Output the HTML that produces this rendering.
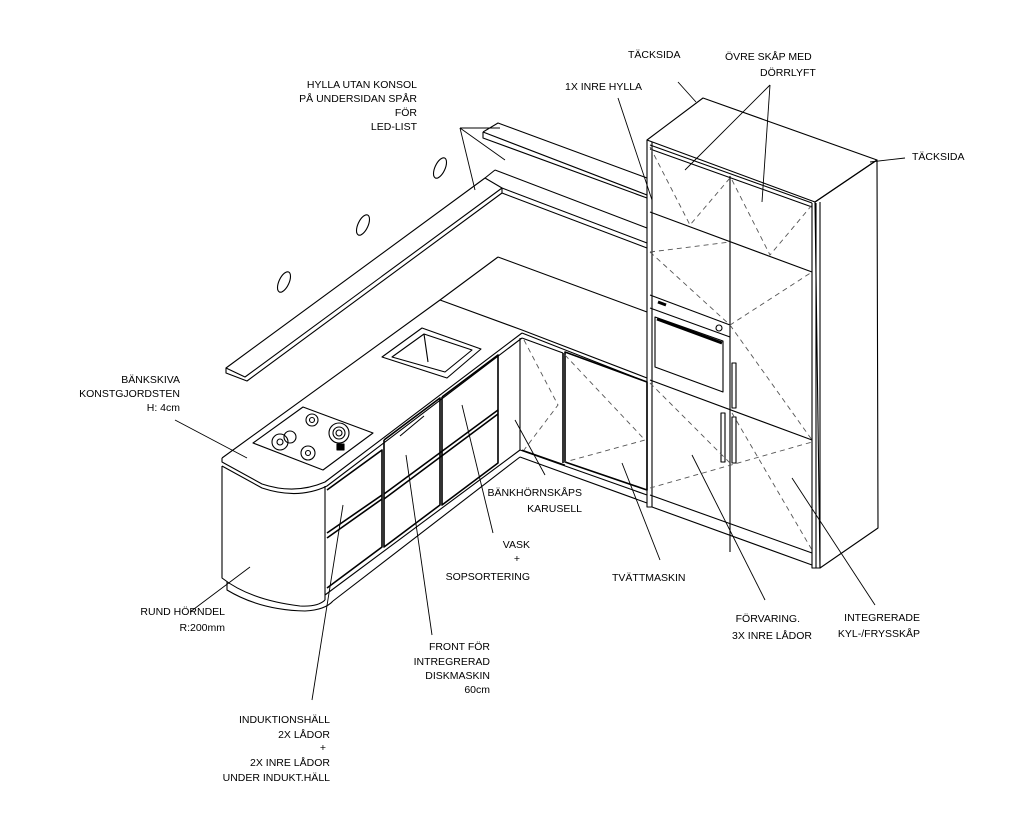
<!DOCTYPE html>
<html><head><meta charset="utf-8"><style>
body{margin:0;background:#fff;}
svg{display:block}
text{font-family:"Liberation Sans",sans-serif;font-size:10.5px;fill:#000;}
</style></head><body>
<svg width="1024" height="819" viewBox="0 0 1024 819" xmlns="http://www.w3.org/2000/svg">
<g fill="none" stroke="#000" stroke-width="1.1" stroke-linejoin="round">
<!-- upper back shelf -->
<polyline points="483,132 498,123 647,178"/>
<polyline points="483,132 483,138 647,198"/>
<line x1="483" y1="132" x2="647" y2="195"/>
<!-- left shelf -->
<polygon points="226,368 485,178 502,188 245,377"/>
<polyline points="226,368 226,373 247,381 502,193 502,188"/>
<line x1="485" y1="178" x2="495" y2="170"/>
<line x1="495" y1="170" x2="647" y2="228"/>
<line x1="502" y1="188" x2="647" y2="243"/>
<line x1="502" y1="193" x2="647" y2="248"/>
<!-- ovals -->
<ellipse cx="284" cy="282" rx="5" ry="11" transform="rotate(25 284 282)"/>
<ellipse cx="363" cy="225" rx="5" ry="11" transform="rotate(25 363 225)"/>
<ellipse cx="440" cy="168" rx="5" ry="11" transform="rotate(25 440 168)"/>
<!-- countertop -->
<path d="M498,257 L647,312"/>
<path d="M498,257 L440,300 L222,458"/>
<path d="M440,300 L522,330 L647,378"/>
<path d="M522,333 L647,382"/>
<path d="M522,333 L325,482 Q295,495 262,484 L222,462 L222,458"/>
<path d="M222,466 L262,488 Q298,500 327,486 L522,338"/>
<!-- round end -->
<path d="M222,466 L222,578 Q250,600 300,606 Q318,607 325,600"/>
<path d="M227,582 L227,590 Q260,610 305,611 Q325,610 333,601"/>
<path d="M325,486 L325,600"/>
<!-- left arm bottom -->
<line x1="325" y1="595" x2="520" y2="450"/>
<line x1="333" y1="601" x2="520" y2="457"/>
<line x1="520" y1="338" x2="520" y2="450"/>
<!-- left arm fronts -->
<g stroke-width="1.6">
<polyline points="327,490 382,450 382,547 327,588"/>
<polyline points="384,440 440,398 440,505 384,547 384,440"/>
<polyline points="442,397 498,355 498,463 442,505 442,397"/>
<line x1="327" y1="533" x2="382" y2="495"/>
<line x1="327" y1="538" x2="382" y2="499"/>
<line x1="384" y1="494" x2="498" y2="410"/>
<line x1="384" y1="499" x2="498" y2="414"/>
</g>
<line x1="400" y1="436" x2="424" y2="416"/>
<!-- right run -->
<line x1="522" y1="338" x2="563" y2="353"/>
<line x1="522" y1="450" x2="565" y2="465"/>
<polyline points="520,450 647,495"/>
<line x1="520" y1="457" x2="647" y2="503"/>
<polygon points="565,352 647,382 647,490 565,462" stroke-width="1.6"/>
<line x1="563" y1="353" x2="563" y2="463" stroke-width="1.6"/>
<!-- sink -->
<polygon points="382,357 422,328 481,349 447,378"/>
<polygon points="392,357 424,334 472,350 445,372"/>
<line x1="424" y1="334" x2="428" y2="362"/>
<!-- hob -->
<polygon points="253,443 303,407 373,433 323,470"/>
<circle cx="312" cy="420" r="6"/><circle cx="312" cy="420" r="2.5"/>
<circle cx="339" cy="433" r="10"/><circle cx="339" cy="433" r="6"/><circle cx="339" cy="433" r="3"/>
<circle cx="280" cy="442" r="8"/><circle cx="280" cy="442" r="3"/>
<circle cx="290" cy="437" r="6"/>
<circle cx="308" cy="453" r="7"/><circle cx="308" cy="453" r="2.5"/>
<rect x="337" y="444" width="7" height="6" fill="#000"/>
<!-- tall unit -->
<polygon points="647,140 703,98 877,160 815,202"/>
<polygon points="815,202 877,160 878,528 820,568"/>
<polyline points="647,140 647,507 652,507 652,142"/>
<line x1="650" y1="145" x2="812" y2="203"/>
<line x1="650" y1="149" x2="812" y2="207"/>
<polyline points="812,203 812,568 820,568 820,202"/>
<line x1="816" y1="203" x2="816" y2="568"/>
<line x1="730" y1="176" x2="730" y2="552"/>
<line x1="650" y1="212" x2="812" y2="272"/>
<line x1="650" y1="295" x2="730" y2="325"/>
<line x1="650" y1="308" x2="730" y2="337"/>
<polygon points="655,317 723,341 723,392 655,367"/>
<line x1="650" y1="380" x2="812" y2="440"/>
<line x1="650" y1="495" x2="812" y2="553"/>
<line x1="652" y1="507" x2="812" y2="565"/>
<line x1="657" y1="319" x2="722" y2="343" stroke-width="3"/>
<line x1="658" y1="302" x2="666" y2="305" stroke-width="3"/>
<circle cx="719" cy="328" r="3"/>
<rect x="732" y="363" width="4" height="45"/>
<rect x="721" y="413" width="4" height="49"/>
<rect x="732" y="417" width="4" height="46"/>
</g>
<!-- dashed -->
<g fill="none" stroke="#555" stroke-width="0.9" stroke-dasharray="5,4">
<path d="M650,147 L690,225 L730,178 M732,180 L770,255 L812,205 M650,252 L730,242 M650,252 L730,325 L812,272 M730,325 L812,440 M650,383 L730,463 M650,488 L812,442 M732,413 L812,550 M524,340 L558,405 L524,450 M565,355 L645,440 L565,462"/>
</g>
<!-- leaders -->
<g stroke="#000" stroke-width="0.9">
<line x1="460" y1="128" x2="475" y2="190"/><line x1="460" y1="128" x2="505" y2="160"/><line x1="460" y1="128" x2="500" y2="128"/>
<line x1="618" y1="98" x2="652" y2="200"/>
<line x1="678" y1="82" x2="696" y2="102"/>
<line x1="770" y1="85" x2="685" y2="170"/><line x1="770" y1="85" x2="762" y2="202"/>
<line x1="870" y1="162" x2="905" y2="158"/>
<line x1="175" y1="420" x2="247" y2="458"/>
<line x1="190" y1="612" x2="250" y2="567"/>
<line x1="312" y1="700" x2="343" y2="505"/>
<line x1="432" y1="635" x2="406" y2="455"/>
<line x1="493" y1="533" x2="462" y2="405"/>
<line x1="545" y1="475" x2="515" y2="420"/>
<line x1="660" y1="560" x2="622" y2="463"/>
<line x1="765" y1="600" x2="692" y2="455"/>
<line x1="875" y1="605" x2="792" y2="478"/>
</g>
<g>
<text x="417" y="88" text-anchor="end">HYLLA UTAN KONSOL</text>
<text x="417" y="102" text-anchor="end">PÅ UNDERSIDAN SPÅR</text>
<text x="417" y="116" text-anchor="end">FÖR</text>
<text x="417" y="130" text-anchor="end">LED-LIST</text>
<text x="565" y="90">1X INRE HYLLA</text>
<text x="628" y="58">TÄCKSIDA</text>
<text x="725" y="60">ÖVRE SKÅP MED</text>
<text x="760" y="76">DÖRRLYFT</text>
<text x="912" y="160">TÄCKSIDA</text>
<text x="180" y="383" text-anchor="end">BÄNKSKIVA</text>
<text x="180" y="397" text-anchor="end">KONSTGJORDSTEN</text>
<text x="180" y="411" text-anchor="end">H: 4cm</text>
<text x="582" y="496" text-anchor="end">BÄNKHÖRNSKÅPS</text>
<text x="582" y="512" text-anchor="end">KARUSELL</text>
<text x="530" y="548" text-anchor="end">VASK</text>
<text x="520" y="562" text-anchor="end">+</text>
<text x="530" y="580" text-anchor="end">SOPSORTERING</text>
<text x="612" y="581">TVÄTTMASKIN</text>
<text x="225" y="615" text-anchor="end">RUND HÖRNDEL</text>
<text x="225" y="631" text-anchor="end">R:200mm</text>
<text x="800" y="622" text-anchor="end">FÖRVARING.</text>
<text x="812" y="639" text-anchor="end">3X INRE LÅDOR</text>
<text x="920" y="621" text-anchor="end">INTEGRERADE</text>
<text x="920" y="637" text-anchor="end">KYL-/FRYSSKÅP</text>
<text x="490" y="650" text-anchor="end">FRONT FÖR</text>
<text x="490" y="665" text-anchor="end">INTREGRERAD</text>
<text x="490" y="679" text-anchor="end">DISKMASKIN</text>
<text x="490" y="693" text-anchor="end">60cm</text>
<text x="330" y="723" text-anchor="end">INDUKTIONSHÄLL</text>
<text x="330" y="738" text-anchor="end">2X LÅDOR</text>
<text x="326" y="751" text-anchor="end">+</text>
<text x="330" y="766" text-anchor="end">2X INRE LÅDOR</text>
<text x="330" y="781" text-anchor="end">UNDER INDUKT.HÄLL</text>
</g>
</svg>
</body></html>
